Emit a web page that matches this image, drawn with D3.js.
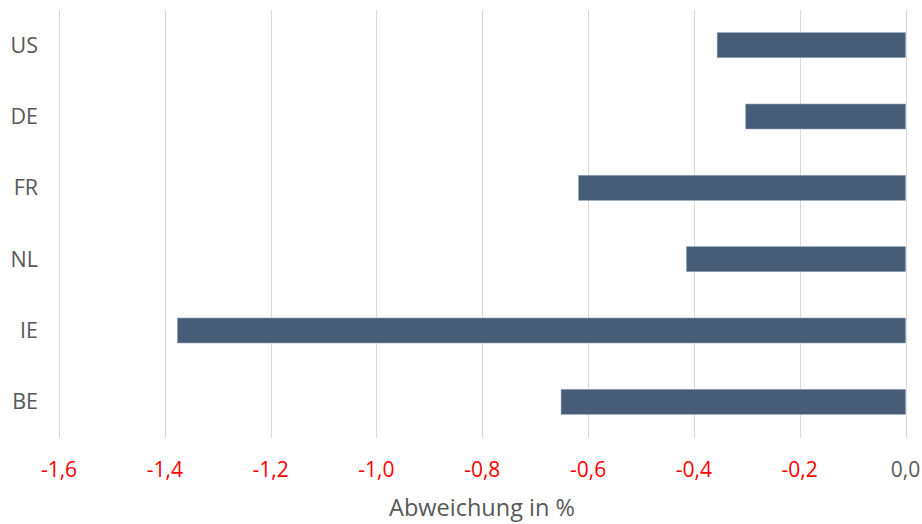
<!DOCTYPE html>
<html><head><meta charset="utf-8">
<script src="https://cdn.jsdelivr.net/npm/d3@7"></script>
<style>body{margin:0;background:#fff}svg{display:block}text{font-family:"Open Sans","Noto Sans",sans-serif}</style>
</head><body><svg id="c" width="922" height="524"></svg>
<script>
const categories = ["US","DE","FR","NL","IE","BE"];
const values = [-0.356,-0.302,-0.618,-0.414,-1.376,-0.651];
const tickValues = [-1.6,-1.4,-1.2,-1.0,-0.8,-0.6,-0.4,-0.2,0.0];
const axisTitle = "Abweichung in %";

const svg = d3.select("#c");
const x = d3.scaleLinear().domain([-1.6,0]).range([59,905.5]);
const y = d3.scaleBand().domain(categories).range([9.5,437.5]).paddingInner(0.65).paddingOuter(0.325);

svg.append("g").selectAll("line").data(tickValues).join("line")
  .attr("x1",d=>Math.round(x(d))+0.5).attr("x2",d=>Math.round(x(d))+0.5)
  .attr("y1",10).attr("y2",438).attr("stroke","#d9d9d9").attr("stroke-width",1);

svg.append("g").selectAll("rect").data(categories).join("rect")
  .attr("x",(c,i)=>x(values[i])).attr("width",(c,i)=>x(0)-x(values[i]))
  .attr("y",c=>y(c)).attr("height",y.bandwidth())
  .attr("fill","#475c77").attr("stroke","#8fa0b4").attr("stroke-width",0.6);

svg.append("g").selectAll("text").data(categories).join("text")
  .attr("x",38).attr("y",c=>y(c)+y.bandwidth()/2).attr("dy","0.35em")
  .attr("text-anchor","end").attr("font-size",21.5).attr("fill","#595959").text(c=>c);

svg.append("g").selectAll("text").data(tickValues).join("text")
  .attr("x",d=>x(d)).attr("y",470).attr("dy","0.35em").attr("text-anchor","middle")
  .attr("font-size",21).attr("fill",d=>d<0?"#ff0000":"#595959")
  .text(d=>d3.format(".1f")(d).replace(".",",").replace("−","-"));

svg.append("text").attr("x",482).attr("y",508).attr("dy","0.35em").attr("text-anchor","middle")
  .attr("font-size",23.5).attr("fill","#595959").text(axisTitle);
</script></body></html>
